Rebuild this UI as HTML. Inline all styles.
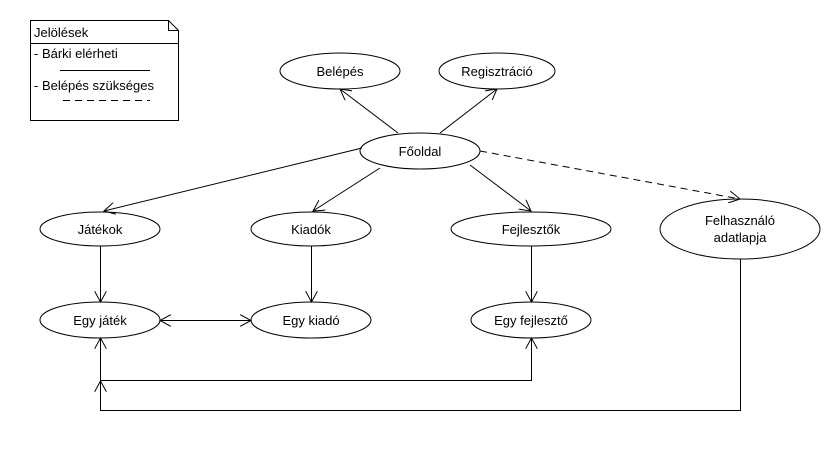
<!DOCTYPE html>
<html><head><meta charset="utf-8"><style>body{margin:0;background:#fff}svg{display:block}text{font-family:"Liberation Sans",sans-serif;font-size:13px;fill:#000}</style></head><body>
<svg width="840" height="450" viewBox="0 0 840 450" xmlns="http://www.w3.org/2000/svg">
<defs>
<marker id="a" markerWidth="12" markerHeight="12" refX="11" refY="6" orient="auto-start-reverse" markerUnits="userSpaceOnUse"><path d="M0,0 L11,6 L0,12" fill="none" stroke="#000" stroke-width="1"/></marker>
</defs>
<g fill="none" stroke="#000" stroke-width="1">
<path d="M30.5,20.5 H168.5 L178.5,30.5 V120.5 H30.5 Z"/>
<path d="M168.5,20.5 V30.5 H178.5"/>
<line x1="30" y1="43.5" x2="178" y2="43.5"/>
<line x1="60" y1="70.5" x2="150" y2="70.5"/>
<line x1="63" y1="100.5" x2="150" y2="100.5" stroke-dasharray="7,5"/>
<ellipse cx="340" cy="71" rx="60" ry="18"/>
<ellipse cx="497" cy="71" rx="58" ry="18"/>
<ellipse cx="420" cy="151" rx="60" ry="18"/>
<ellipse cx="100" cy="229" rx="60" ry="17"/>
<ellipse cx="311" cy="229" rx="60" ry="17"/>
<ellipse cx="531" cy="229" rx="80" ry="17"/>
<ellipse cx="740" cy="229" rx="80" ry="30"/>
<ellipse cx="100" cy="320" rx="60" ry="18"/>
<ellipse cx="311" cy="320" rx="60" ry="18"/>
<ellipse cx="531" cy="320" rx="60" ry="18"/>
<line x1="398" y1="133" x2="340" y2="89" marker-end="url(#a)"/>
<line x1="440" y1="133" x2="497" y2="89" marker-end="url(#a)"/>
<line x1="362" y1="148" x2="104" y2="211" marker-end="url(#a)"/>
<line x1="380" y1="168" x2="313" y2="211" marker-end="url(#a)"/>
<line x1="470" y1="165" x2="531" y2="211" marker-end="url(#a)"/>
<line x1="480" y1="151" x2="740" y2="199" stroke-dasharray="7,5" marker-end="url(#a)"/>
<line x1="100.5" y1="246" x2="100.5" y2="302" marker-end="url(#a)"/>
<line x1="311.5" y1="246" x2="311.5" y2="302" marker-end="url(#a)"/>
<line x1="531.5" y1="246" x2="531.5" y2="302" marker-end="url(#a)"/>
<line x1="160" y1="320.5" x2="251" y2="320.5" marker-start="url(#a)" marker-end="url(#a)"/>
<path d="M100.5,338 V380.5 H531.5 V338" marker-start="url(#a)" marker-end="url(#a)"/>
<path d="M740.5,259 V410.5 H100.5 V381" marker-end="url(#a)"/>
</g>
<text x="34" y="37">Jelölések</text>
<text x="34" y="58">- Bárki elérheti</text>
<text x="34" y="90">- Belépés szükséges</text>
<g text-anchor="middle">
<text x="340" y="76">Belépés</text>
<text x="497" y="76">Regisztráció</text>
<text x="420" y="156">Főoldal</text>
<text x="100" y="234">Játékok</text>
<text x="311" y="234">Kiadók</text>
<text x="531" y="234">Fejlesztők</text>
<text x="740" y="225">Felhasználó</text>
<text x="740" y="242">adatlapja</text>
<text x="100" y="325">Egy játék</text>
<text x="311" y="325">Egy kiadó</text>
<text x="531" y="325">Egy fejlesztő</text>
</g>
</svg>
</body></html>
